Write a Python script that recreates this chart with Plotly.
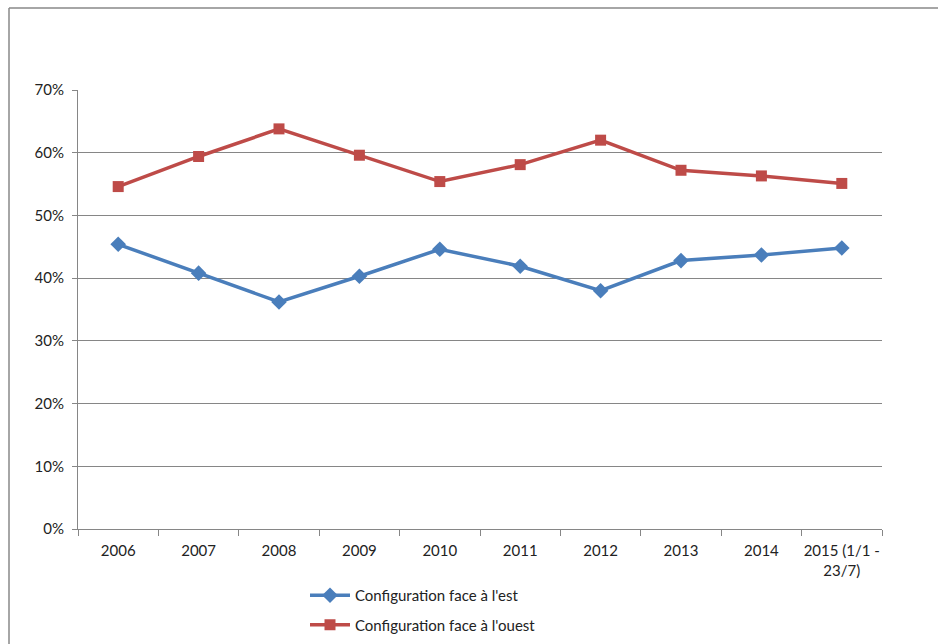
import plotly.graph_objects as go

categories = ["2006", "2007", "2008", "2009", "2010", "2011", "2012", "2013", "2014", "2015 (1/1 -<br>23/7)"]
est_values = [0.454, 0.408, 0.362, 0.403, 0.446, 0.419, 0.380, 0.428, 0.437, 0.448]
ouest_values = [0.546, 0.594, 0.638, 0.596, 0.554, 0.581, 0.620, 0.572, 0.563, 0.551]
series_names = ["Configuration face à l'est", "Configuration face à l'ouest"]
y_ticks = [0, 0.1, 0.2, 0.3, 0.4, 0.5, 0.6, 0.7]

W, H = 938, 644
L, R, T, B = 78, 56, 90, 115
pw = W - L - R
ph = H - T - B

font_family = "Lato, 'Liberation Sans', sans-serif"

fig = go.Figure()
fig.add_trace(go.Scatter(
    x=categories, y=est_values, name=series_names[0], mode="lines+markers",
    legendgroup="a",
    line=dict(color="#4a7ebb", width=3.5),
    marker=dict(symbol="diamond", size=12, color="#4a7ebb"),
))
fig.add_trace(go.Scatter(
    x=categories, y=ouest_values, name=series_names[1], mode="lines+markers",
    legendgroup="b",
    line=dict(color="#be4b48", width=3.5),
    marker=dict(symbol="square", size=11, color="#be4b48"),
))

def px_x(p):
    return (p - L) / pw

def px_y(p):
    return (H - B - p) / ph

fig.add_shape(type="line", xref="paper", yref="paper",
              x0=px_x(9), x1=px_x(940), y0=px_y(8), y1=px_y(8),
              line=dict(color="#888888", width=1.5))
fig.add_shape(type="line", xref="paper", yref="paper",
              x0=px_x(9), x1=px_x(9), y0=px_y(8), y1=px_y(650),
              line=dict(color="#888888", width=1.5))

fig.update_layout(
    width=W, height=H,
    margin=dict(l=L, r=R, t=T, b=B, pad=0, autoexpand=False),
    paper_bgcolor="white", plot_bgcolor="white",
    font=dict(family=font_family, size=14, color="#222222"),
    showlegend=True,
    legend=dict(orientation="v", x=px_x(305), y=px_y(579), xanchor="left", yanchor="top",
                font=dict(size=15), tracegroupgap=7, itemwidth=40,
                bgcolor="rgba(0,0,0,0)"),
    xaxis=dict(type="category", range=[-0.5, 9.5], showgrid=False, showline=True,
               linecolor="#868686", linewidth=1, tickangle=0, automargin=False,
               ticks="outside", tickson="boundaries", ticklen=6, tickcolor="#868686",
               ticklabelstandoff=8,
               tickfont=dict(size=15), zeroline=False),
    yaxis=dict(range=[0, 0.7], tickvals=y_ticks, tickformat=".0%", showgrid=True,
               gridcolor="#868686", gridwidth=1, showline=True, linecolor="#868686",
               ticks="outside", ticklen=5, tickcolor="#868686", zeroline=False,
               ticklabelstandoff=5,
               automargin=False, tickfont=dict(size=15)),
)

fig.write_html("out.html")
